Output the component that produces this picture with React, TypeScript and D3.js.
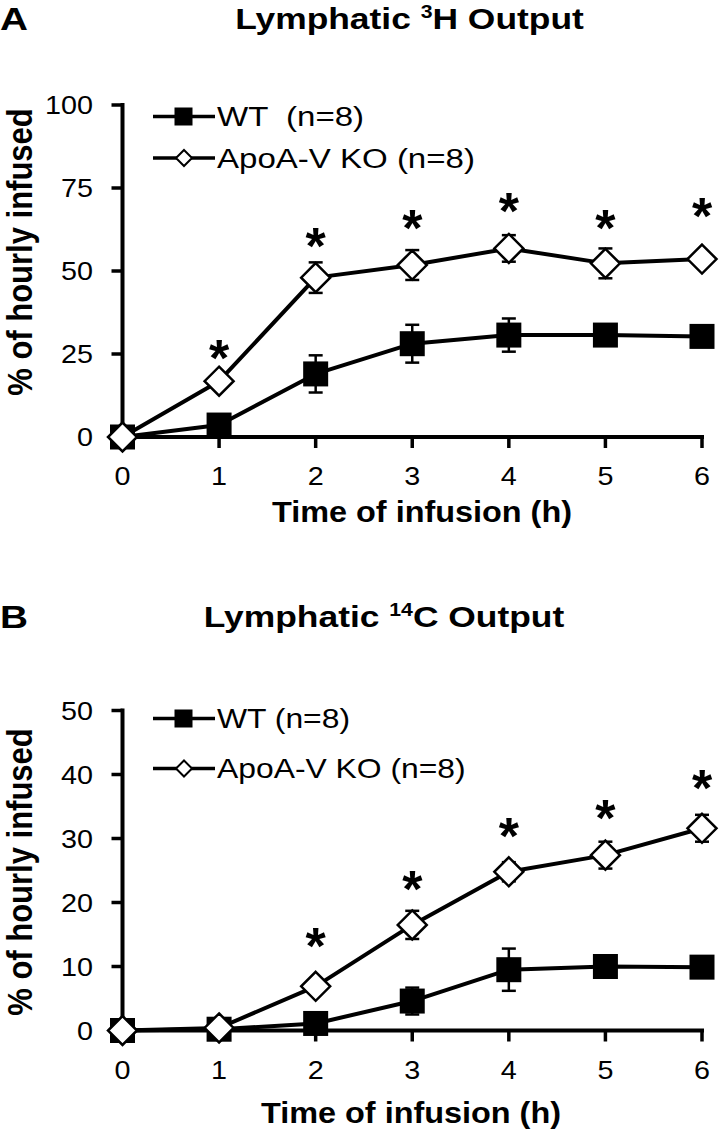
import React from "react";
import * as d3 from "d3";

// ---------- data ----------
const hours = [0, 1, 2, 3, 4, 5, 6];

// Panel A: Lymphatic 3H output (% of hourly infused)
const wt3H = [0, 3.6, 19, 28.1, 30.7, 30.7, 30.3];
const wt3HErr = [0, 1, 5.6, 5.7, 5, 1.5, 1.5];
const ko3H = [0, 16.8, 48, 51.8, 56.8, 52.3, 53.6];
const ko3HErr = [0, 1.2, 4.6, 4.5, 4.0, 4.5, 2];
const sig3H = [null, 27.2, 60.8, 66.4, 71.4, 66.4, 69.9];
const yTicks3H = [0, 25, 50, 75, 100];

// Panel B: Lymphatic 14C output
const wt14C = [0, 0.2, 1.1, 4.6, 9.5, 10.0, 9.9];
const wt14CErr = [0, 0.2, 0.8, 2.1, 3.3, 1.2, 1.2];
const ko14C = [0, 0.4, 6.9, 16.5, 24.8, 27.4, 31.6];
const ko14CErr = [0, 0.3, 1.0, 2.2, 1.5, 2.1, 2.1];
const sig14C = [null, null, 14.9, 23.8, 32.1, 35.0, 39.6];
const yTicks14C = [0, 10, 20, 30, 40, 50];

const FONT = "'Liberation Sans', Arial, Helvetica, sans-serif";

type PanelProps = {
  letter: string;
  letterY: number;
  titlePre: string;
  titleSup: string;
  titlePost: string;
  titleX: number;
  titleY: number;
  yMax: number;
  yTicks: number[];
  yRange: [number, number];
  wt: number[];
  wtErr: number[];
  ko: number[];
  koErr: number[];
  sig: (number | null)[];
  wtLabel: string;
  koLabel: string;
  legWtY: number;
  legKoY: number;
  legTextDy: number;
  legFont: number;
  ylabelY: number;
  xTitleX: number;
  xTitleY: number;
};

function SText(props: {
  x: number;
  y: number;
  sx?: number;
  size: number;
  weight?: string | number;
  anchor?: string;
  children: React.ReactNode;
}) {
  const { x, y, sx = 1.18, size, weight = "normal", anchor = "start", children } = props;
  return (
    <text
      transform={`translate(${x},${y}) scale(${sx},1)`}
      fontSize={size}
      fontWeight={weight}
      textAnchor={anchor as any}
      fontFamily={FONT}
      fill="#000"
      style={{ whiteSpace: "pre" }}
    >
      {children}
    </text>
  );
}

function Diamond({ cx, cy, r, sw }: { cx: number; cy: number; r: number; sw: number }) {
  const d = `M${cx},${cy - r}L${cx + r},${cy}L${cx},${cy + r}L${cx - r},${cy}Z`;
  return <path d={d} fill="#fff" stroke="#000" strokeWidth={sw} strokeLinejoin="miter" />;
}

function Panel(p: PanelProps) {
  const x = d3.scaleLinear().domain([0, 6]).range([122.5, 702]);
  const y = d3.scaleLinear().domain([0, p.yMax]).range(p.yRange);
  const line = d3
    .line<number>()
    .x((_, i) => x(hours[i]))
    .y((v) => y(v));

  const sq = 25;
  const dr = 14.5;

  const errBars = (vals: number[], errs: number[]) =>
    vals.map((v, i) =>
      errs[i] > 0 ? (
        <g key={i} stroke="#000" strokeWidth={2.5}>
          <line x1={x(hours[i])} x2={x(hours[i])} y1={y(v - errs[i])} y2={y(v + errs[i])} />
          <line x1={x(hours[i]) - 7} x2={x(hours[i]) + 7} y1={y(v + errs[i])} y2={y(v + errs[i])} />
          <line x1={x(hours[i]) - 7} x2={x(hours[i]) + 7} y1={y(v - errs[i])} y2={y(v - errs[i])} />
        </g>
      ) : null
    );

  const y0 = y(0);
  const yTop = y(p.yMax);

  return (
    <g>
      {/* panel letter & title */}
      <SText x={0} y={p.letterY} size={31} weight="bold" sx={1.25}>
        {p.letter}
      </SText>
      <text
        transform={`translate(${p.titleX},${p.titleY}) scale(1.18,1)`}
        fontSize={30}
        fontWeight="bold"
        textAnchor="middle"
        fontFamily={FONT}
      >
        <tspan>{p.titlePre}</tspan>
        <tspan fontSize={18} dy={-11}>
          {p.titleSup}
        </tspan>
        <tspan dy={11}>{p.titlePost}</tspan>
      </text>

      {/* y axis label */}
      <text
        transform={`translate(31.5,${p.ylabelY}) rotate(-90) scale(1,1.12)`}
        fontSize={31}
        fontWeight="bold"
        textAnchor="middle"
        fontFamily={FONT}
      >
        % of hourly infused
      </text>

      {/* axes */}
      <line x1={x(0)} x2={x(0)} y1={y0 + 2} y2={yTop - 2} stroke="#000" strokeWidth={4} />
      <line x1={x(0) - 2} x2={x(6) + 2} y1={y0} y2={y0} stroke="#000" strokeWidth={4} />
      {p.yTicks.map((t) => (
        <g key={"yt" + t}>
          <line x1={x(0) - 11} x2={x(0)} y1={y(t)} y2={y(t)} stroke="#000" strokeWidth={3.5} />
          <SText x={93} y={y(t) + 9} size={25} sx={1.15} anchor="end">
            {String(t)}
          </SText>
        </g>
      ))}
      {hours.map((h) => (
        <g key={"xt" + h}>
          <line x1={x(h)} x2={x(h)} y1={y0} y2={y0 + 11} stroke="#000" strokeWidth={3.5} />
          <SText x={x(h)} y={y0 + 48} size={25} sx={1.15} anchor="middle">
            {String(h)}
          </SText>
        </g>
      ))}
      <SText x={p.xTitleX} y={p.xTitleY} size={30} weight="bold" sx={1.08} anchor="middle">
        Time of infusion (h)
      </SText>

      {/* legend */}
      <line x1={153} x2={215} y1={p.legWtY} y2={p.legWtY} stroke="#000" strokeWidth={3.5} />
      <rect x={183.5 - 9} y={p.legWtY - 9} width={18} height={18} fill="#000" />
      <SText x={217} y={p.legWtY + p.legTextDy} size={p.legFont} sx={1.18}>
        {p.wtLabel}
      </SText>
      <line x1={153} x2={215} y1={p.legKoY} y2={p.legKoY} stroke="#000" strokeWidth={3.5} />
      <Diamond cx={184} cy={p.legKoY} r={8} sw={2} />
      <SText x={217} y={p.legKoY + p.legTextDy} size={p.legFont} sx={1.18}>
        {p.koLabel}
      </SText>

      {/* WT series */}
      {errBars(p.wt, p.wtErr)}
      <path d={line(p.wt) || ""} fill="none" stroke="#000" strokeWidth={4} strokeLinejoin="round" />
      {p.wt.map((v, i) => (
        <rect key={"wt" + i} x={x(hours[i]) - sq / 2} y={y(v) - sq / 2} width={sq} height={sq} fill="#000" />
      ))}

      {/* KO series */}
      {errBars(p.ko, p.koErr)}
      <path d={line(p.ko) || ""} fill="none" stroke="#000" strokeWidth={4} strokeLinejoin="round" />
      {p.ko.map((v, i) => (
        <Diamond key={"ko" + i} cx={x(hours[i])} cy={y(v)} r={dr} sw={2.5} />
      ))}

      {/* significance asterisks */}
      {p.sig.map((s, i) =>
        s == null ? null : (
          <text
            key={"s" + i}
            x={x(hours[i])}
            y={y(s) + 29}
            fontSize={52}
            fontWeight="bold"
            textAnchor="middle"
            fontFamily={FONT}
          >
            *
          </text>
        )
      )}
    </g>
  );
}

export default function App() {
  return (
    <div style={{ position: "absolute", left: 0, top: 0 }}>
      <svg width={720} height={1133} viewBox="0 0 720 1133" style={{ display: "block", background: "#fff" }}>
        <rect x={0} y={0} width={720} height={1133} fill="#fff" />
        <Panel
          letter="A"
          letterY={30}
          titlePre="Lymphatic "
          titleSup="3"
          titlePost="H Output"
          titleX={409.5}
          titleY={28.5}
          yMax={100}
          yTicks={yTicks3H}
          yRange={[437, 105]}
          wt={wt3H}
          wtErr={wt3HErr}
          ko={ko3H}
          koErr={ko3HErr}
          sig={sig3H}
          wtLabel={"WT  (n=8)"}
          koLabel={"ApoA-V KO (n=8)"}
          legWtY={116.5}
          legKoY={158}
          legTextDy={9.5}
          legFont={28}
          ylabelY={252}
          xTitleX={422}
          xTitleY={522}
        />
        <Panel
          letter="B"
          letterY={628}
          titlePre="Lymphatic "
          titleSup="14"
          titlePost="C Output"
          titleX={384}
          titleY={626.5}
          yMax={50}
          yTicks={yTicks14C}
          yRange={[1030.5, 710.5]}
          wt={wt14C}
          wtErr={wt14CErr}
          ko={ko14C}
          koErr={ko14CErr}
          sig={sig14C}
          wtLabel={"WT (n=8)"}
          koLabel={"ApoA-V KO (n=8)"}
          legWtY={718.5}
          legKoY={768.5}
          legTextDy={9.5}
          legFont={27}
          ylabelY={872}
          xTitleX={411}
          xTitleY={1123}
        />
      </svg>
    </div>
  );
}
